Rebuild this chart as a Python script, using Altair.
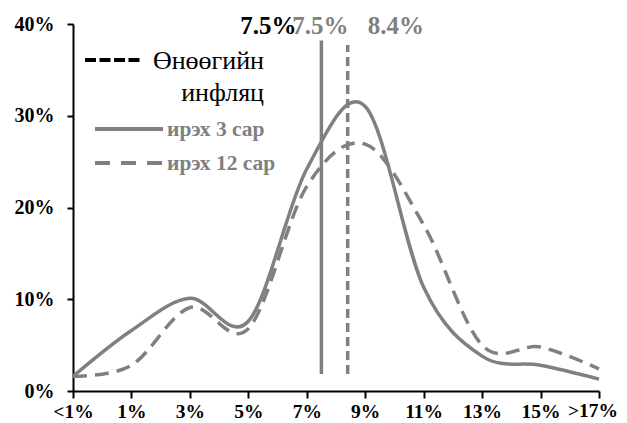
import json
import altair as alt
import pandas as pd

categories = ["<1%", "1%", "3%", "5%", "7%", "9%", "11%", "13%", "15%", ">17%"]
next3m = [1.6, 6.6, 10.1, 7.6, 24.2, 31.0, 11.3, 3.8, 2.8, 1.3]
next12m = [1.6, 2.8, 9.1, 6.8, 22.3, 26.9, 18.1, 5.0, 4.8, 2.4]
y_ticks = [0, 10, 20, 30, 40]

# vertical marker lines (expected inflation), x in category-index units
markers = pd.DataFrame({
    "x": [4.25, 4.7],
    "y": [1.85, 1.85],
    "y2": [38.2, 37.7],
    "series": ["3m", "12m"],
})
labels = pd.DataFrame({
    "x": [4.25, 4.25, 4.7],
    "y": [40, 40, 40],
    "txt": ["7.5%", "7.5%", "8.4%"],
    "kind": ["current", "3m", "12m"],
})

GRAY = "#808080"
FONT = "Liberation Serif"

df = pd.DataFrame({
    "i": list(range(len(categories))),
    "cat": categories,
    "s3": next3m,
    "s12": next12m,
})

last = len(categories) - 1
label_expr = json.dumps(categories[:-1] + [""]) + "[datum.value]"

x_enc = alt.X("i:Q", scale=alt.Scale(domain=[0, last], nice=False, zero=False),
              axis=alt.Axis(values=list(range(len(categories))), labelExpr=label_expr,
                            title=None, tickSize=7, labelPadding=4, labelOverlap=False,
                            labelFlush=False, labelFont=FONT, labelFontSize=19.5,
                            labelFontWeight="bold", labelColor="black"))
y_enc = alt.Y("v:Q", scale=alt.Scale(domain=[0, 40], nice=False),
              axis=alt.Axis(values=y_ticks, labelExpr="datum.value + '%'", title=None,
                            tickSize=6, labelPadding=13, labelOverlap=False,
                            labelFlush=False, labelFont=FONT, labelFontSize=20,
                            labelFontWeight="bold", labelColor="black"))

base = alt.Chart(df)
line3 = base.transform_calculate(v="datum.s3").mark_line(
    interpolate="cardinal", tension=0, color=GRAY, strokeWidth=3.5
).encode(x=x_enc, y=y_enc)
line12 = base.transform_calculate(v="datum.s12").mark_line(
    interpolate="cardinal", tension=0, color=GRAY, strokeWidth=3.5, strokeDash=[14, 8]
).encode(x=x_enc, y=y_enc)

# last category label drawn as text (nudged so it stays inside the page)
last_lbl = alt.Chart(pd.DataFrame({"i": [last], "v": [0], "cat": [categories[-1]]})).mark_text(
    font=FONT, fontSize=19.5, fontWeight="bold", color="black", align="center",
    baseline="top", dx=-6, dy=11
).encode(x="i:Q", y="v:Q", text="cat:N")

mk = alt.Chart(markers)
rule3 = mk.transform_filter("datum.series == '3m'").mark_rule(
    color=GRAY, strokeWidth=3.5).encode(x="x:Q", y="y:Q", y2="y2:Q")
rule12 = mk.transform_filter("datum.series == '12m'").mark_rule(
    color=GRAY, strokeWidth=3.5, strokeDash=[9, 5]).encode(x="x:Q", y="y:Q", y2="y2:Q")

lb = alt.Chart(labels)
t_3 = lb.transform_filter("datum.kind == '3m'").mark_text(
    font=FONT, fontSize=25, fontWeight="bold", color=GRAY, align="right",
    baseline="alphabetic", dx=27, dy=10).encode(x="x:Q", y="y:Q", text="txt:N")
t_12 = lb.transform_filter("datum.kind == '12m'").mark_text(
    font=FONT, fontSize=25, fontWeight="bold", color=GRAY, align="left",
    baseline="alphabetic", dx=20, dy=10).encode(x="x:Q", y="y:Q", text="txt:N")
t_cur = lb.transform_filter("datum.kind == 'current'").mark_text(
    font=FONT, fontSize=25, fontWeight="bold", color="black", align="right",
    baseline="alphabetic", dx=-25, dy=10).encode(x="x:Q", y="y:Q", text="txt:N")

# manual legend
one = alt.Chart(pd.DataFrame({"a": [0]}))
leg_l1 = one.mark_rule(color="black", strokeWidth=4, strokeDash=[11, 3.5]).encode(
    x=alt.value(12), x2=alt.value(67), y=alt.value(36))
leg_l2 = one.mark_rule(color=GRAY, strokeWidth=4).encode(
    x=alt.value(22), x2=alt.value(90), y=alt.value(105))
leg_l3 = one.mark_rule(color=GRAY, strokeWidth=4, strokeDash=[15, 11]).encode(
    x=alt.value(22), x2=alt.value(90), y=alt.value(139))
leg_t1 = one.mark_text(font=FONT, fontSize=26, color="black", align="right",
                       baseline="alphabetic", text="Өнөөгийн").encode(
    x=alt.value(191), y=alt.value(45))
leg_t1b = one.mark_text(font=FONT, fontSize=26, color="black", align="right",
                        baseline="alphabetic", text="инфляц").encode(
    x=alt.value(191), y=alt.value(77))
leg_t2 = one.mark_text(font=FONT, fontSize=21.5, fontWeight="bold", color=GRAY,
                       align="left", baseline="alphabetic", text="ирэх 3 сар").encode(
    x=alt.value(94), y=alt.value(112))
leg_t3 = one.mark_text(font=FONT, fontSize=21.5, fontWeight="bold", color=GRAY,
                       align="left", baseline="alphabetic", text="ирэх 12 сар").encode(
    x=alt.value(94), y=alt.value(146))

chart = alt.layer(
    line3, line12, last_lbl, rule3, rule12, t_3, t_12, t_cur,
    leg_l1, leg_l2, leg_l3, leg_t1, leg_t1b, leg_t2, leg_t3,
).properties(
    width=526, height=367,
    autosize=alt.AutoSizeParams(type="none"),
    padding={"left": 65, "top": 16, "right": 20, "bottom": 32},
).configure_view(stroke=None).configure_axis(
    grid=False, domainColor="black", domainWidth=2, tickColor="black", tickWidth=2,
)

chart.save("out.html", embed_options={"renderer": "svg", "actions": False})
